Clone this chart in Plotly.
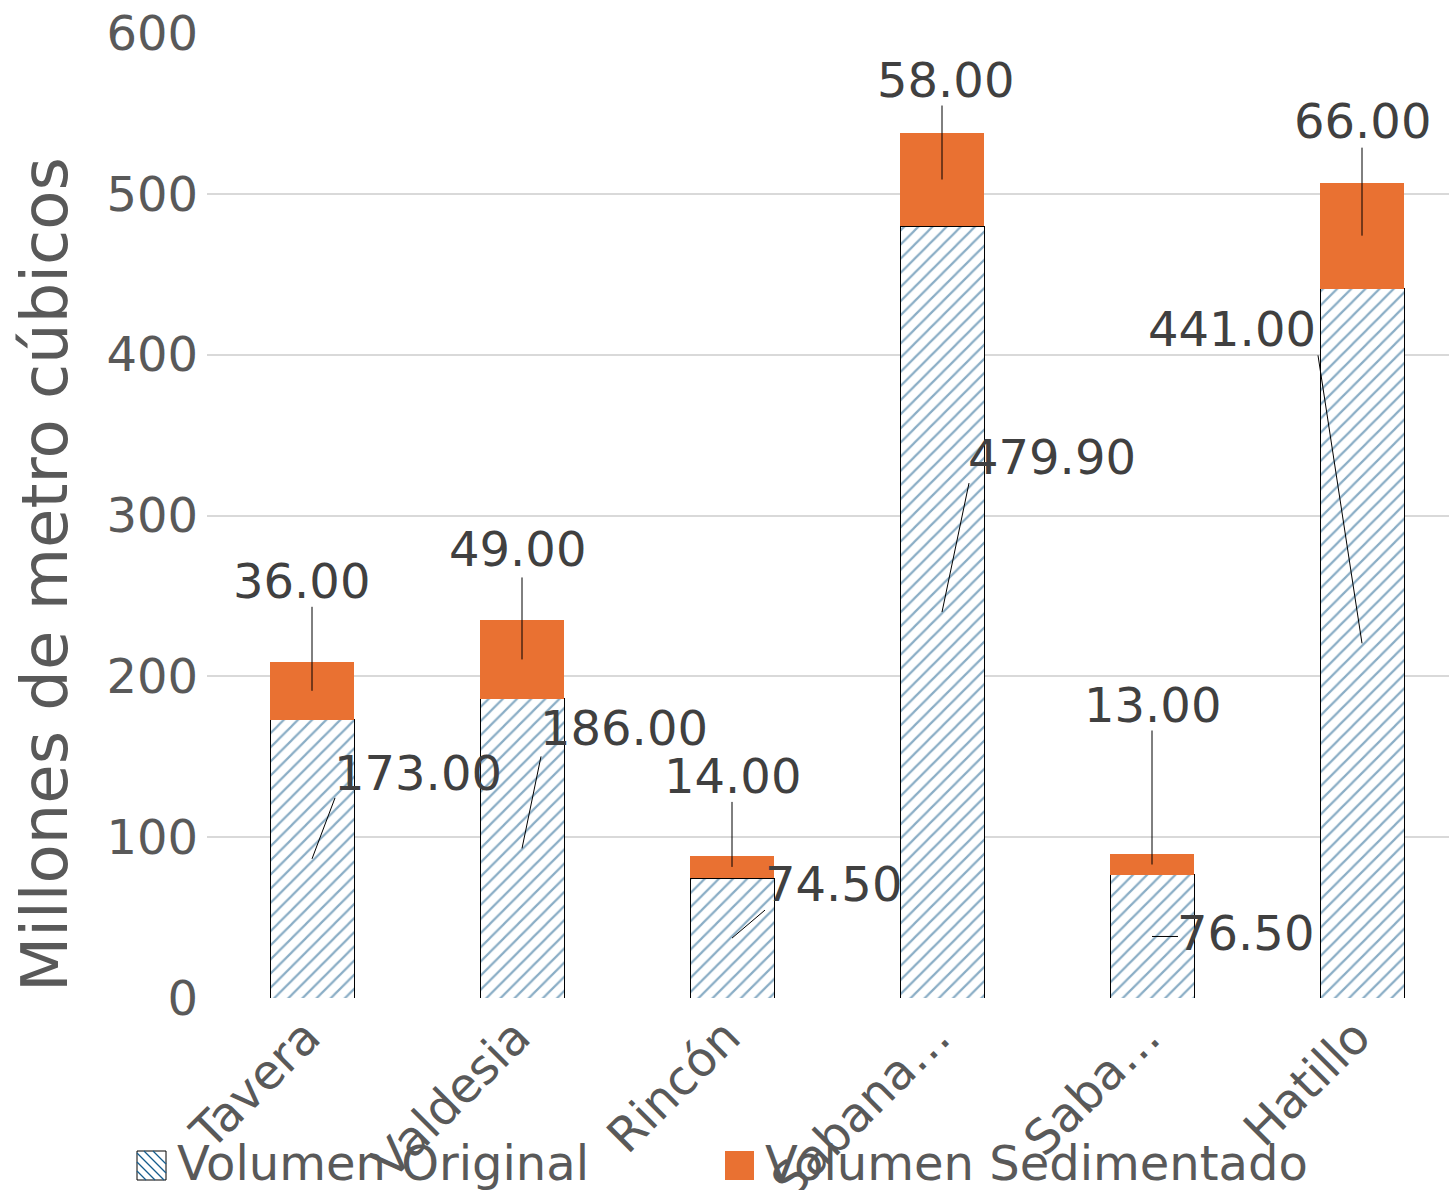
import plotly.graph_objects as go

# Reservoir volumes (millions of cubic metres)
categories = ["Tavera", "Valdesia", "Rincón", "Sabana…", "Saba…", "Hatillo"]
volumen_original = [173.00, 186.00, 74.50, 479.90, 76.50, 441.00]
volumen_sedimentado = [36.00, 49.00, 14.00, 58.00, 13.00, 66.00]

series_names = ["Volumen Original", "Volumen Sedimentado"]
y_title = "Millones de metro cúbicos"

# Label placement (pixel offsets from the middle of each segment)
# text centre offsets (dx, dy up) and leader-line end offsets (dx, dy up)
orig_text_off = [(106, 86), (102, 120), (101, 54), (110, 155), (93, 3), (-130, 314)]
orig_line_off = [(23, 61), (19, 92), (33, 28), (27, 129), (26, 0), (-44, 288)]
sed_text_off = [(-11, 110), (-5, 110), (0, 91), (3, 100), (0, 160), (0, 115)]
sed_line_off = [(0, 84), (0, 82), (0, 65), (0, 74), (0, 134), (0, 88)]

ORANGE = "#E97132"
HATCH = "#155C8C"
TEXT = "#404040"
AXIS_TEXT = "#595959"
FONT = "DejaVu Sans"
FS = 48

PLOT_L, PLOT_W, PLOT_B, PLOT_H = 207, 1242, 998, 965
CAT_PX = 210  # horizontal space given to each category

fig = go.Figure()
fig.add_trace(go.Bar(
    x=categories, y=volumen_original, name=series_names[0],
    marker=dict(color="white",
                pattern=dict(shape="/", fgcolor=HATCH, bgcolor="white",
                             size=10, solidity=0.22),
                line=dict(color="black", width=1)),
    showlegend=False,
))
fig.add_trace(go.Bar(
    x=categories, y=volumen_sedimentado, name=series_names[1],
    marker=dict(color=ORANGE, line=dict(width=0)),
    showlegend=False,
))

annotations = []
shapes = []


def leader(cat, yval, dx, dy):
    shapes.append(dict(
        type="line", xref="x", yref="y",
        xsizemode="pixel", ysizemode="pixel",
        xanchor=cat, yanchor=yval,
        x0=0, y0=0, x1=dx, y1=dy,
        line=dict(color="black", width=1), layer="above",
    ))


def label(cat, yval, text, dx, dy):
    annotations.append(dict(
        x=cat, y=yval, xref="x", yref="y", text=text, showarrow=False,
        xanchor="center", yanchor="middle", xshift=dx, yshift=dy,
        font=dict(family=FONT, size=FS, color=TEXT),
    ))


for i, cat in enumerate(categories):
    o = volumen_original[i]
    s = volumen_sedimentado[i]
    mid_o = o / 2
    mid_s = o + s / 2
    leader(cat, mid_o, *orig_line_off[i])
    label(cat, mid_o, f"{o:.2f}", *orig_text_off[i])
    leader(cat, mid_s, *sed_line_off[i])
    label(cat, mid_s, f"{s:.2f}", *sed_text_off[i])


def px_x(px):
    return (px - PLOT_L) / PLOT_W


def px_y(py):
    return (PLOT_B - py) / PLOT_H


# Vertical axis title
annotations.append(dict(
    x=px_x(45), y=px_y(575), xref="paper", yref="paper", text=y_title,
    textangle=-90, showarrow=False, xanchor="center", yanchor="middle",
    font=dict(family=FONT, size=64, color=AXIS_TEXT),
))

# Legend drawn below the axis
SW = 29
sw1_x, sw2_x, sw_bottom = 137, 725, 1180
# hatched swatch
shapes.append(dict(type="rect", xref="paper", yref="paper",
                   xsizemode="pixel", ysizemode="pixel",
                   xanchor=px_x(sw1_x), yanchor=px_y(sw_bottom),
                   x0=0, y0=0, x1=SW, y1=SW,
                   fillcolor="white", line=dict(color="black", width=1)))
for k in (9, 18, 27, 36, 45):
    if k <= SW:
        p0, p1 = (0, k), (k, 0)
    else:
        p0, p1 = (k - SW, SW), (SW, k - SW)
    shapes.append(dict(type="line", xref="paper", yref="paper",
                       xsizemode="pixel", ysizemode="pixel",
                       xanchor=px_x(sw1_x), yanchor=px_y(sw_bottom),
                       x0=p0[0], y0=p0[1], x1=p1[0], y1=p1[1],
                       line=dict(color=HATCH, width=1.2)))
# solid swatch
shapes.append(dict(type="rect", xref="paper", yref="paper",
                   xsizemode="pixel", ysizemode="pixel",
                   xanchor=px_x(sw2_x), yanchor=px_y(sw_bottom),
                   x0=0, y0=0, x1=SW, y1=SW,
                   fillcolor=ORANGE, line=dict(width=0)))
for name, tx in zip(series_names, (175, 763)):
    annotations.append(dict(
        x=px_x(tx), y=px_y(1163), xref="paper", yref="paper", text=name,
        showarrow=False, xanchor="left", yanchor="middle",
        font=dict(family=FONT, size=FS, color=AXIS_TEXT),
    ))

fig.update_layout(
    width=1449, height=1190, autosize=False,
    margin=dict(l=PLOT_L, r=0, t=33, b=192, pad=0),
    paper_bgcolor="white", plot_bgcolor="white",
    barmode="stack", bargap=0.6,
    font=dict(family=FONT, color=AXIS_TEXT),
    annotations=annotations, shapes=shapes,
    xaxis=dict(tickangle=-45, tickfont=dict(size=FS, color=AXIS_TEXT),
               range=[-0.5, -0.5 + PLOT_W / CAT_PX],
               ticklabelshift=-6,
               showgrid=False, showline=False, zeroline=False, ticks="",
               automargin=False),
    yaxis=dict(range=[0, 600], dtick=100, showgrid=True,
               gridcolor="#D9D9D9", gridwidth=2, zeroline=False,
               showline=False, ticks="", automargin=False,
               ticklabelstandoff=8,
               tickfont=dict(size=FS, color=AXIS_TEXT)),
)

fig.write_html("out.html")
